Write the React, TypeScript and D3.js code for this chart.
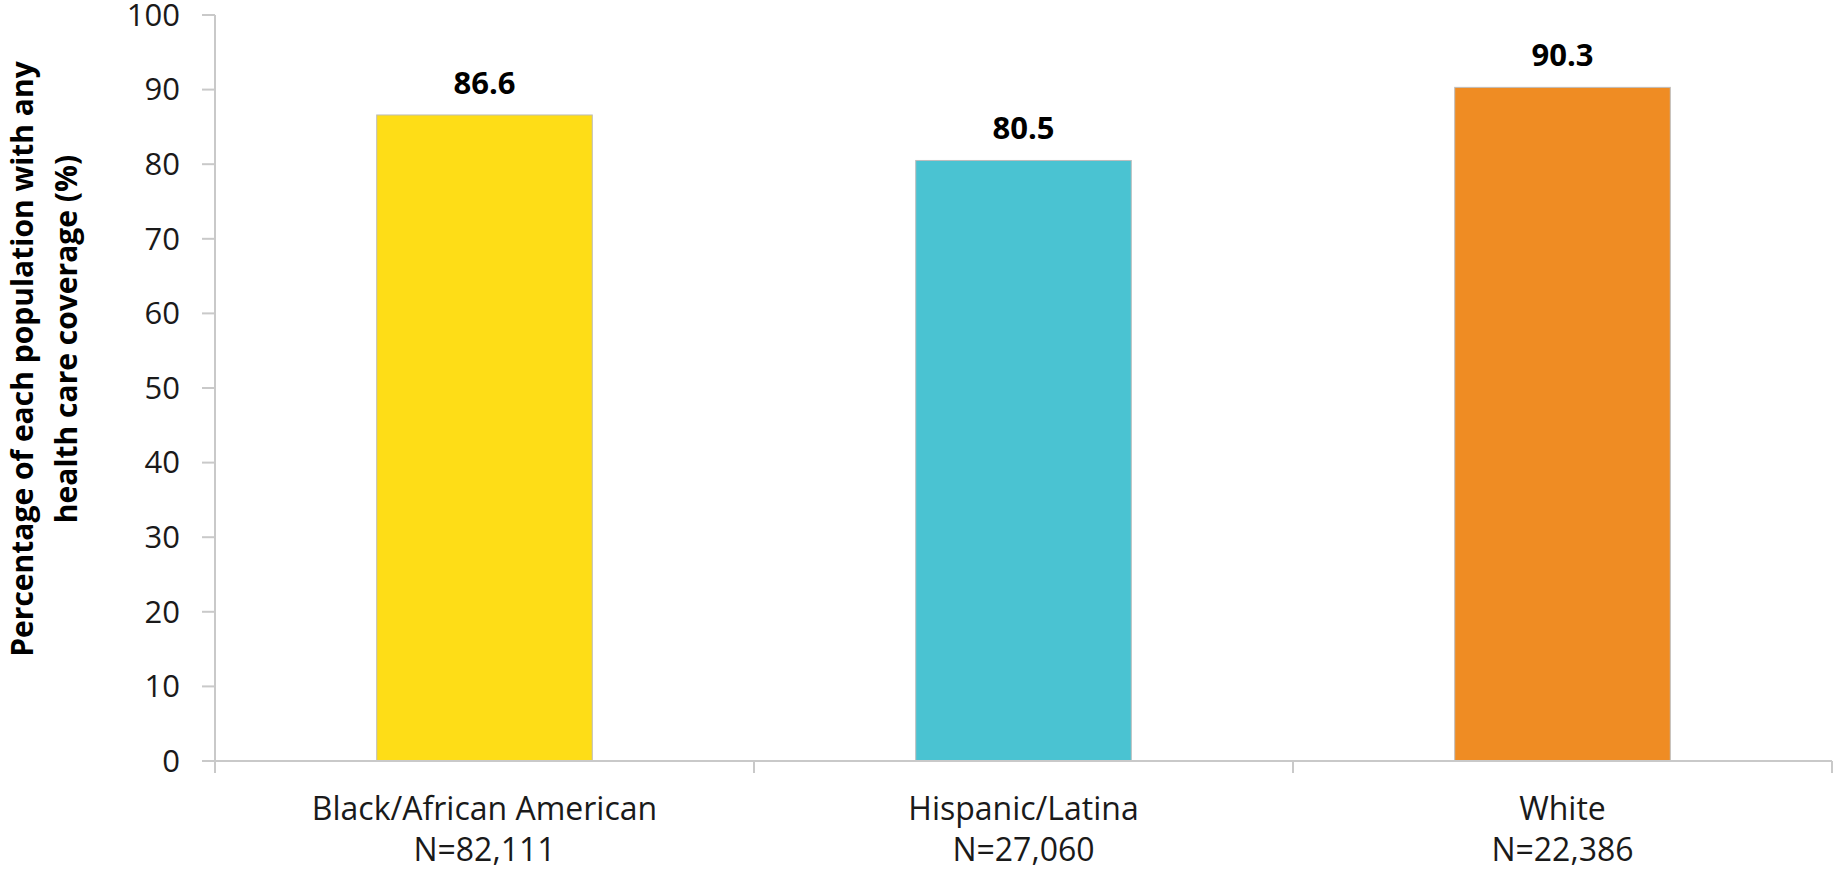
import React from "react";
import * as d3 from "d3";

const categories = ["Black/African American", "Hispanic/Latina", "White"];
const sampleSizes = ["N=82,111", "N=27,060", "N=22,386"];
const values = [86.6, 80.5, 90.3];
const barColors = ["#FEDD17", "#4AC3D2", "#EF8C23"];
const yTicks = [0, 10, 20, 30, 40, 50, 60, 70, 80, 90, 100];
const titleLines = ["Percentage of each population with any", "health care coverage (%)"];

const W = 1834;
const H = 870;
const FONT = "'Open Sans', 'DejaVu Sans', sans-serif";
const AXIS = "#c9c9c9";

export default function App() {
  const x = d3
    .scaleBand<string>()
    .domain(categories)
    .range([215, 1832])
    .paddingInner(0.6)
    .paddingOuter(0.3);
  const xOuter = d3.scaleBand<string>().domain(categories).range([215, 1832]).padding(0);
  const y = d3.scaleLinear().domain([0, 100]).range([761, 15]);
  const y0 = y(0);

  const boundaries = [...categories.map((c) => xOuter(c) as number), 1832];

  return (
    <svg
      width={W}
      height={H}
      style={{ position: "absolute", left: 0, top: 0, background: "#fff" }}
      fontFamily={FONT}
    >
      <rect x={0} y={0} width={W} height={H} fill="#fff" />
      {/* y axis */}
      <line x1={215} x2={215} y1={y(100)} y2={y0} stroke={AXIS} strokeWidth={2} />
      {yTicks.map((t) => (
        <g key={t}>
          <line x1={202} x2={215} y1={y(t)} y2={y(t)} stroke={AXIS} strokeWidth={2} />
          <text
            x={180}
            y={y(t)}
            dy="0.35em"
            textAnchor="end"
            fontSize={31}
            fill="#1a1a1a"
          >
            {t}
          </text>
        </g>
      ))}
      {/* bars */}
      {categories.map((c, i) => {
        const bx = x(c) as number;
        const bw = x.bandwidth();
        const top = y(values[i]);
        return (
          <g key={c}>
            <rect
              x={bx}
              y={top}
              width={bw}
              height={y0 - top}
              fill={barColors[i]}
              stroke="#bdbdbd"
              strokeWidth={1}
            />
            <text
              x={bx + bw / 2}
              y={top - 21}
              textAnchor="middle"
              fontSize={31}
              fontWeight="bold"
              fill="#000"
            >
              {values[i].toFixed(1)}
            </text>
          </g>
        );
      })}
      {/* x axis */}
      <line x1={215} x2={1832} y1={y0} y2={y0} stroke={AXIS} strokeWidth={2} />
      {boundaries.map((b, i) => (
        <line key={i} x1={b} x2={b} y1={y0} y2={773} stroke={AXIS} strokeWidth={2} />
      ))}
      {categories.map((c, i) => {
        const cx = (xOuter(c) as number) + xOuter.bandwidth() / 2;
        return (
          <g key={c}>
            <text x={cx} y={820} textAnchor="middle" fontSize={32} fill="#1a1a1a">
              {c}
            </text>
            <text x={cx} y={861} textAnchor="middle" fontSize={32} fill="#1a1a1a">
              {sampleSizes[i]}
            </text>
          </g>
        );
      })}
      {/* y title */}
      <text
        transform="translate(33,359) rotate(-90)"
        textAnchor="middle"
        fontSize={30}
        fontWeight="bold"
        fill="#000"
      >
        {titleLines[0]}
      </text>
      <text
        transform="translate(77,339) rotate(-90)"
        textAnchor="middle"
        fontSize={30}
        fontWeight="bold"
        fill="#000"
      >
        {titleLines[1]}
      </text>
    </svg>
  );
}
